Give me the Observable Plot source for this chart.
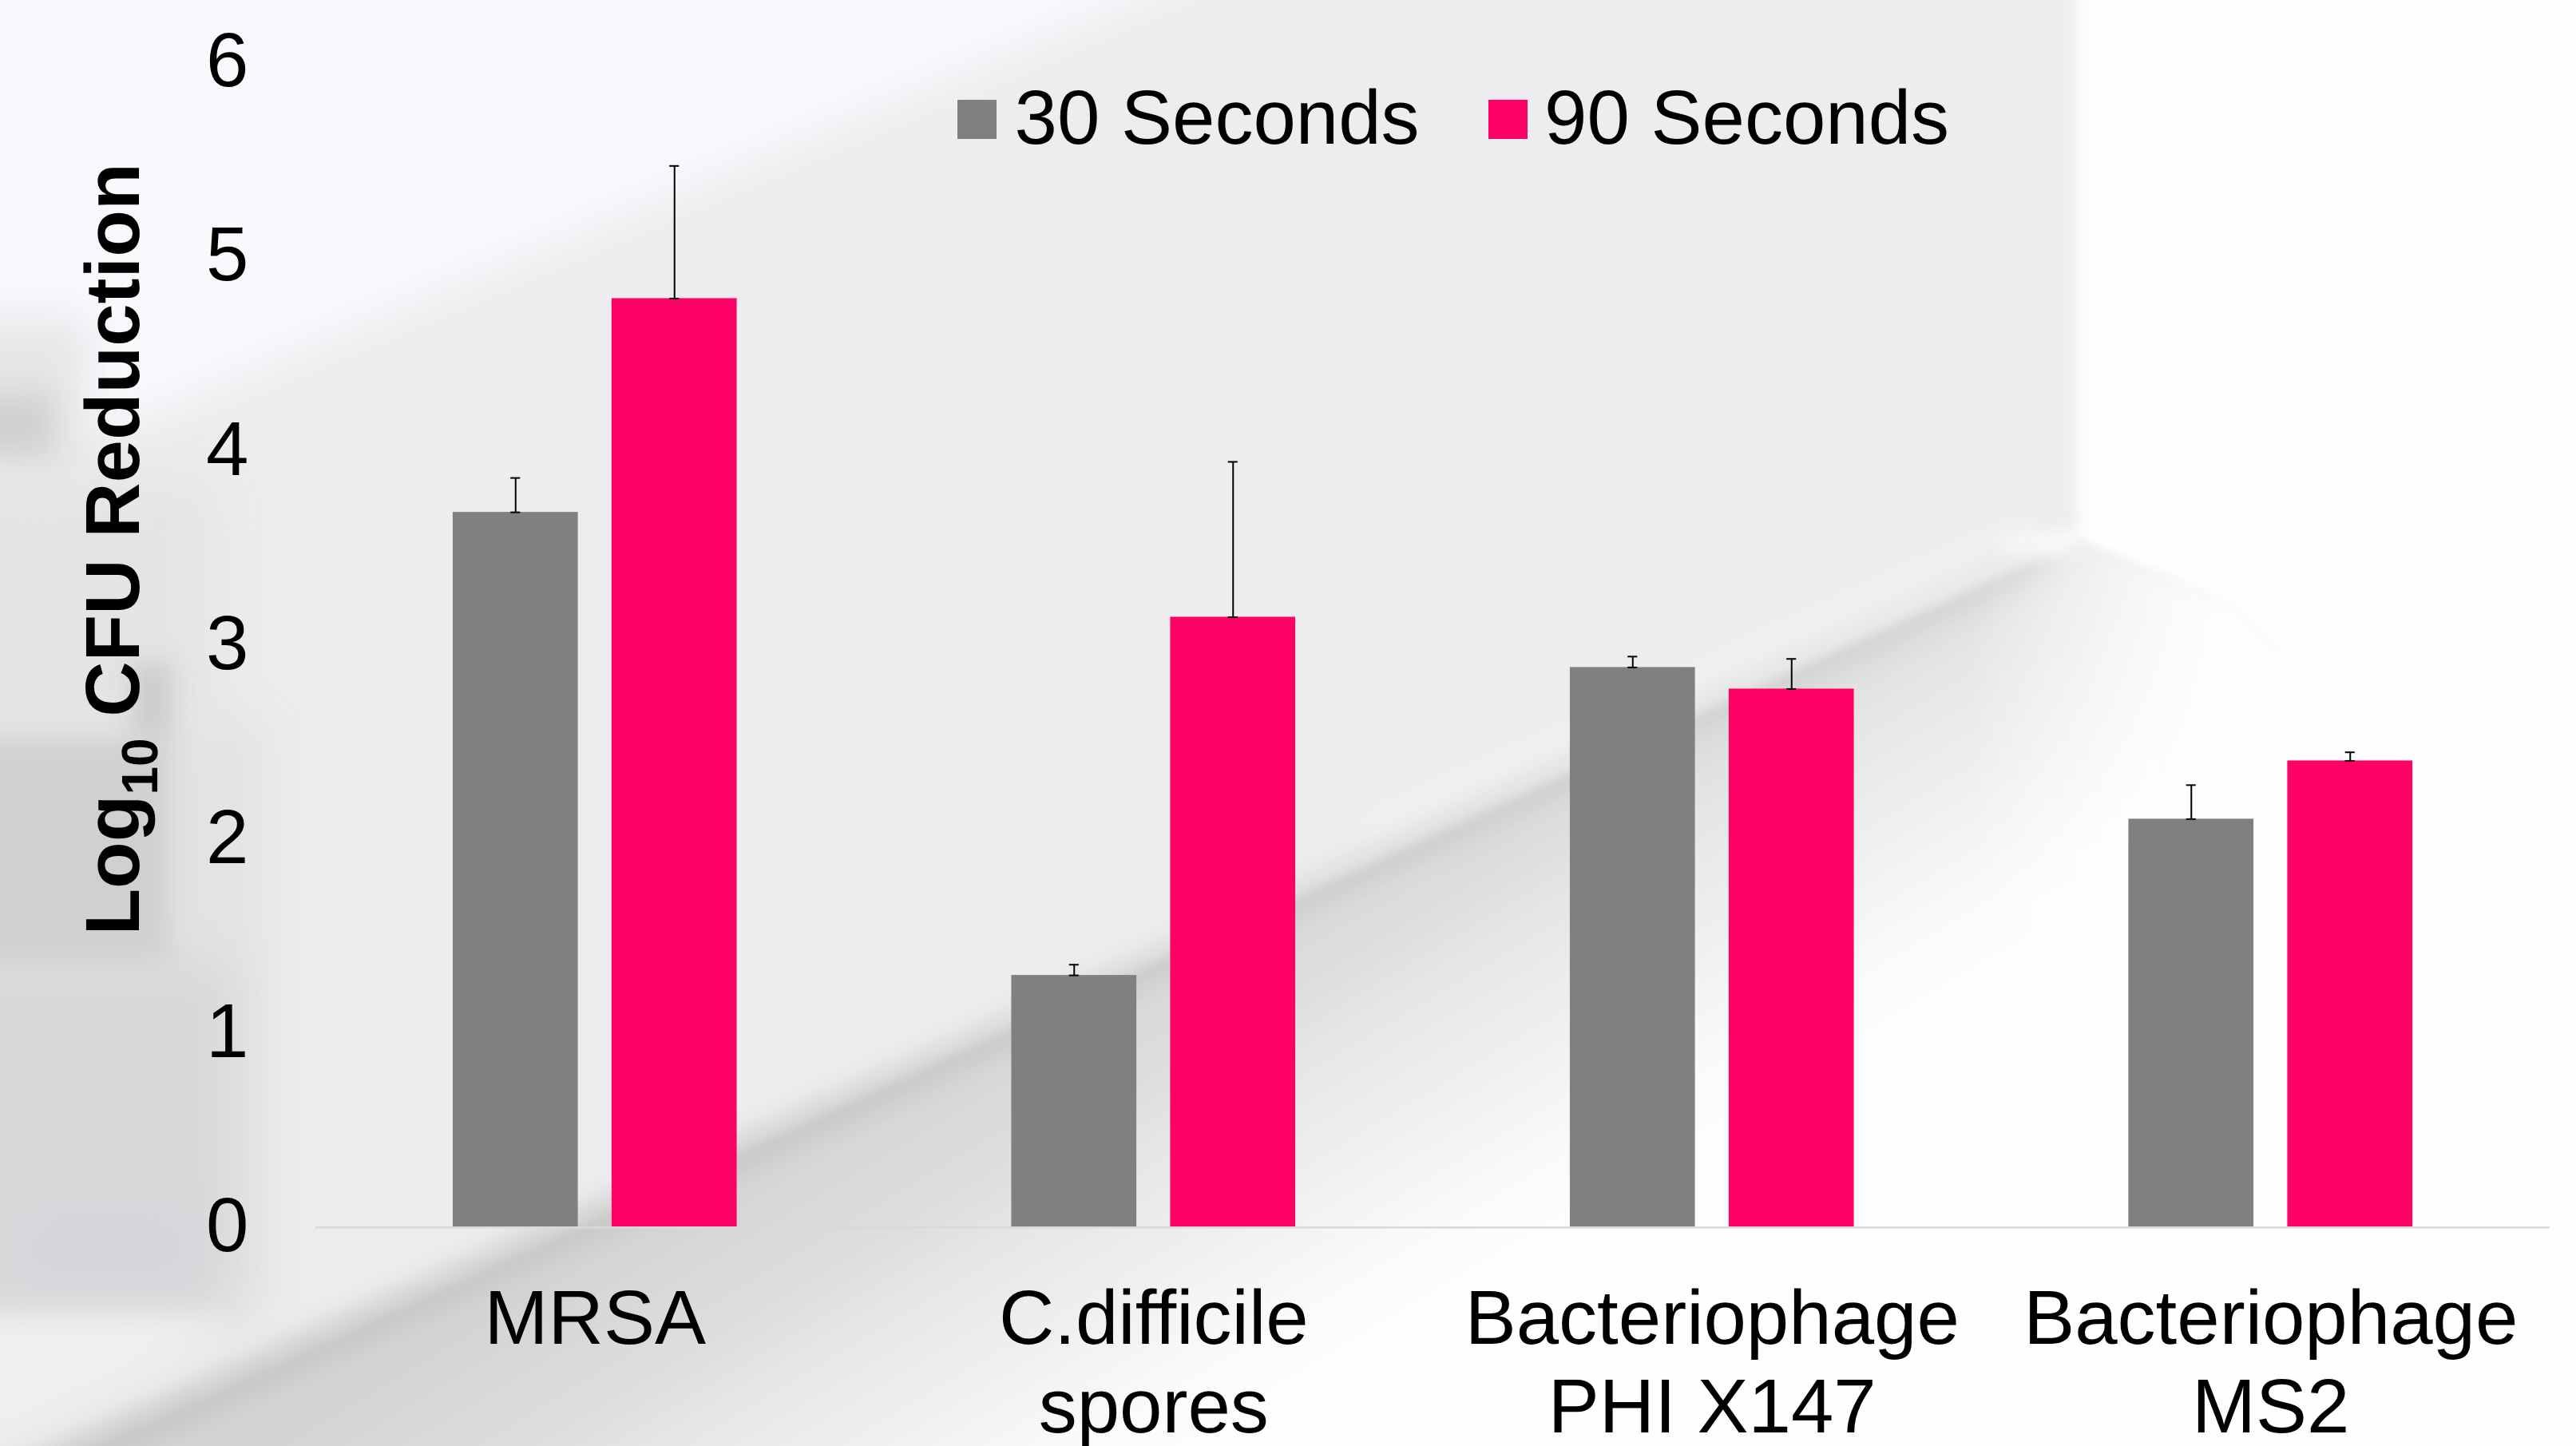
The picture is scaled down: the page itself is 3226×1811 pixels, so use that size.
<!DOCTYPE html>
<html>
<head>
<meta charset="utf-8">
<script src="https://cdn.jsdelivr.net/npm/d3@7"></script>
<script src="https://cdn.jsdelivr.net/npm/@observablehq/plot@0.6"></script>
<style>
  html, body { margin: 0; padding: 0; background: #fefefe; }
  body { width: 3226px; height: 1811px; position: relative; overflow: hidden; font-family: "Liberation Sans", Arial, sans-serif; text-rendering: geometricPrecision; }
  #bg { position: absolute; left: 0; top: 0; width: 3226px; height: 1811px; overflow: hidden; }
  .wrap { position: absolute; left: -100px; top: -100px; width: 3426px; height: 2051px; }
  .wrap div { position: absolute; left: 0; top: 0; width: 100%; height: 100%; }
  #chart { position: absolute; left: 0; top: 0; }
  #legend span { position: absolute; }
  .swatch { width: 49px; height: 49px; top: 125px; }
  .ltext { top: 99.5px; font-size: 96px; line-height: 96px; color: #000; white-space: nowrap; }
</style>
</head>
<body>
<div id="bg"></div>
<div id="chart"></div>
<div id="legend"></div>
<script>
const groups = ["MRSA", "C.difficile\nspores", "Bacteriophage\nPHI X147", "Bacteriophage\nMS2"];
const seriesNames = ["30 Seconds", "90 Seconds"];
const seriesColors = ["#808080", "#ff0066"];
const values30 = [3.68, 1.295, 2.881, 2.10];
const values90 = [4.781, 3.14, 2.77, 2.40];
const upper30 = [3.857, 1.35, 2.937, 2.275];
const upper90 = [5.464, 3.94, 2.925, 2.444];
const yTicks = [0, 1, 2, 3, 4, 5, 6];
const axisTitle = ["Log", "10", " CFU Reduction"];

// Blurred photographic backdrop: purely decorative shapes, not data.
const floorShape = [[2600,676],[2800,760],[3400,1400],[3400,1950],[-100,1950],[-100,1912]];
const backdrop = [
  {poly: [[-100,-100],[2600,-100],[2600,668],[-100,1912]], fill: "#edecee", blur: 9},
  {poly: [[-100,-100],[1665,-100],[-100,640]], fill: "#f8f9fd", blur: 30},
  {poly: floorShape,
   fill: "linear-gradient(149deg,#d4d4d4 53%,#dedede 58%,#e6e6e6 60%,#f0f0f0 64%,#fbfbfb 68%,#fefefe 71%)", blur: 6},
  {poly: floorShape,
   fill: "linear-gradient(90deg,rgba(254,254,254,0) 2560px,#fefefe 2900px)", blur: 8},
  {poly: [[2700,640],[3100,640],[3100,1050],[2860,800]], fill: "#fefefe", blur: 45},
  {poly: [[2540,640],[1700,1025],[1700,1065],[2540,680]], fill: "#f3f3f3", blur: 18, opacity: .7},
  {poly: [[2510,672],[2600,664],[2600,690],[2510,702]], fill: "#fbfbfb", blur: 12},
  {poly: [[2560,695],[2560,708],[-100,1938],[-100,1888]], fill: "#c2c2c2", blur: 17, opacity: .85},
  {poly: [[-100,600],[270,600],[270,926],[-100,926]], fill: "#e4e4e5", blur: 34},
  {poly: [[-100,900],[335,900],[335,1650],[-100,1650]], fill: "#e3e3e4", blur: 30},
  {poly: [[-100,1206],[290,1206],[290,1640],[-100,1640]], fill: "#d8d8da", blur: 28},
  {poly: [[-100,926],[213,926],[213,1206],[-100,1206]], fill: "#d0d0d1", blur: 16},
  {poly: [[33,1524],[233,1524],[233,1600],[33,1600]], fill: "#d3d5dc", blur: 26},
  {poly: [[-100,400],[110,400],[110,620],[-100,620]], fill: "#e6e6e8", blur: 26},
  {poly: [[-100,493],[67,493],[67,570],[-100,570]], fill: "#d0d0d2", blur: 18},
  {poly: [[165,830],[215,830],[215,926],[165,926]], fill: "#cccccc", blur: 15},
  {poly: [[-100,1655],[290,1655],[-100,1830]], fill: "#efeff1", blur: 16}
];
const bg = document.getElementById("bg");
backdrop.forEach(l => {
  const w = document.createElement("div");
  w.className = "wrap";
  w.style.filter = `blur(${l.blur}px)`;
  if (l.opacity) w.style.opacity = l.opacity;
  const d = document.createElement("div");
  d.style.background = l.fill;
  d.style.clipPath = "polygon(" + l.poly.map(([x, y]) => `${x + 100}px ${y + 100}px`).join(",") + ")";
  w.append(d);
  bg.append(w);
});

const rows = groups.flatMap((g, i) => [
  {group: g, series: seriesNames[0], value: values30[i], upper: upper30[i]},
  {group: g, series: seriesNames[1], value: values90[i], upper: upper90[i]}
]);

const font = "'Liberation Sans', Arial, sans-serif";

const chart = Plot.plot({
  width: 3226,
  height: 1811,
  marginLeft: 395,
  marginRight: 33,
  marginTop: 77,
  marginBottom: 275,
  style: {background: "transparent", fontFamily: font, color: "#000", overflow: "visible"},
  fx: {domain: groups, padding: 0, round: false, label: null},
  x: {domain: seriesNames, paddingInner: 0.2126, paddingOuter: 0.864, round: false, axis: null, label: null},
  y: {domain: [0, 6], label: null},
  color: {domain: seriesNames, range: seriesColors},
  marks: [
    Plot.ruleY([0], {stroke: "#d9d9d9", strokeWidth: 2.5, dy: 0.7}),
    Plot.barY(rows, {fx: "group", x: "series", y: "value", fill: "series"}),
    Plot.ruleX(rows, {fx: "group", x: "series", y1: "value", y2: "upper", stroke: "#000", strokeWidth: 2}),
    Plot.tickY(rows, {fx: "group", x: "series", y: "upper", stroke: "#000", strokeWidth: 2, insetLeft: 72.3, insetRight: 72.3}),
    Plot.tickY(rows, {fx: "group", x: "series", y: "value", stroke: "#000", strokeWidth: 2, insetLeft: 72.3, insetRight: 72.3}),
    Plot.axisY({ticks: yTicks, tickFormat: d => String(d), tickSize: 0, tickPadding: 84, fontSize: 96, label: null, stroke: "none", fill: "#000"}),
    Plot.axisFx({anchor: "bottom", tickSize: 0, tickPadding: 68, fontSize: 96, lineHeight: 1.155, label: null, stroke: "none", fill: "#000"}),
    Plot.text([axisTitle.join("")], {
      facet: "super",
      frameAnchor: "left",
      textAnchor: "middle",
      lineAnchor: "bottom",
      rotate: -90,
      dx: -221.7,
      dy: -119,
      fontSize: 96,
      fontWeight: "bold",
      fill: "#000",
      render(index, scales, values, dimensions, context, next) {
        const g = next(index, scales, values, dimensions, context);
        const t = g.querySelector("text");
        t.textContent = "";
        const ns = "http://www.w3.org/2000/svg";
        const a = document.createElementNS(ns, "tspan");
        a.textContent = axisTitle[0];
        const b = document.createElementNS(ns, "tspan");
        b.textContent = axisTitle[1];
        b.setAttribute("font-size", 64);
        b.setAttribute("dy", 23.4);
        const c = document.createElementNS(ns, "tspan");
        c.textContent = axisTitle[2];
        c.setAttribute("dy", -23.4);
        t.append(a, b, c);
        return g;
      }
    })
  ]
});
document.getElementById("chart").append(chart);

const legendSpots = [
  {swatch: 1199, text: 1270.5},
  {swatch: 1864, text: 1934}
];
const legend = document.getElementById("legend");
seriesNames.forEach((name, i) => {
  const s = document.createElement("span");
  s.className = "swatch";
  s.style.left = legendSpots[i].swatch + "px";
  s.style.background = seriesColors[i];
  const t = document.createElement("span");
  t.className = "ltext";
  t.style.left = legendSpots[i].text + "px";
  t.textContent = name;
  legend.append(s, t);
});
</script>
</body>
</html>
